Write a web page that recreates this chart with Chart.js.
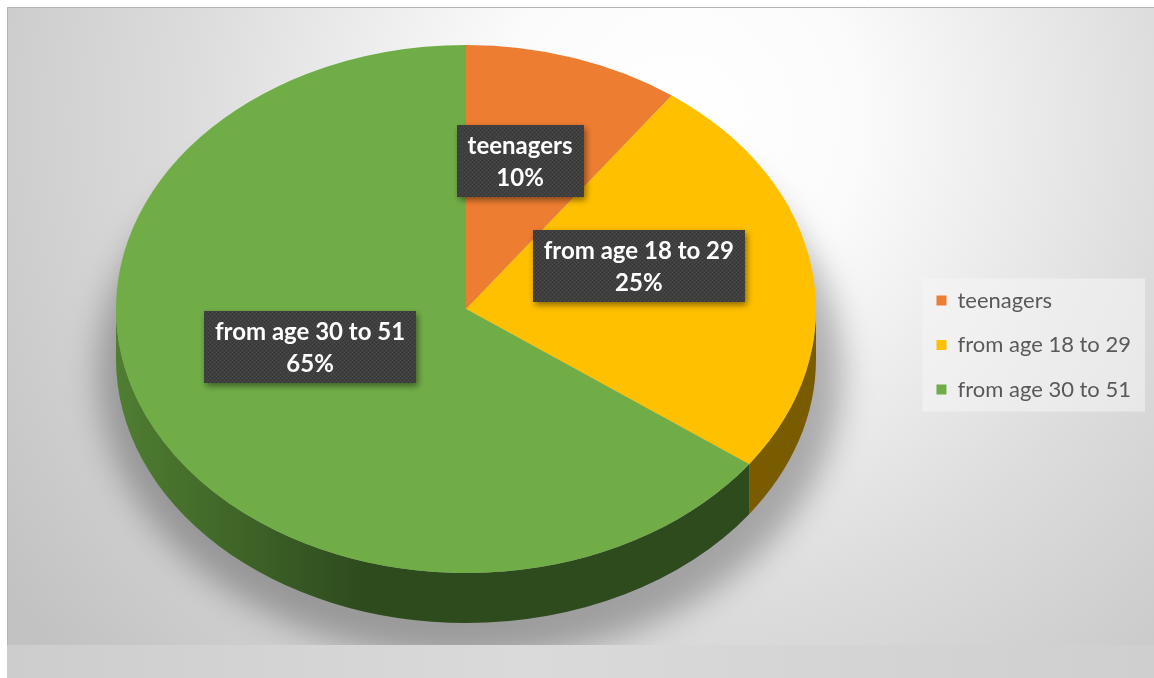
<!DOCTYPE html>
<html>
<head>
<meta charset="utf-8">
<script src="https://cdn.jsdelivr.net/npm/chart.js@4.4.1/dist/chart.umd.min.js"></script>
<style>
html,body{margin:0;padding:0;background:#ffffff;overflow:hidden;}
#wrap{width:1154px;height:678px;position:relative;}
canvas{display:block;}
</style>
</head>
<body>
<div id="wrap"><canvas id="c" width="1154" height="678"></canvas></div>
<script>
// ---- data ----
const categories = ['teenagers', 'from age 18 to 29', 'from age 30 to 51'];
const shares = [10, 25, 65];
// ---- styles ----
const topColors = ['#ED7D31', '#FFC000', '#70AD47'];
const sideDark = ['#8c4716', '#7a5c00', '#2e4b1e'];
const sideLight = ['#b0602a', '#9a7400', '#4f7e31'];

// background, floor and soft shadow
const backgroundPlugin = {
  id: 'bg3d',
  beforeDraw(chart, args, o) {
    const ctx = chart.ctx;
    const W = chart.width, H = chart.height;
    ctx.save();
    ctx.fillStyle = '#ffffff';
    ctx.fillRect(0, 0, W, H);
    const fx = o.frameLeft, fy = o.frameTop;
    const g = ctx.createRadialGradient(680, 120, 0, 680, 120, 820);
    g.addColorStop(0, '#ffffff');
    g.addColorStop(0.22, '#fbfbfb');
    g.addColorStop(0.6, '#dcdcdc');
    g.addColorStop(1, '#c2c2c2');
    ctx.fillStyle = g;
    ctx.fillRect(fx, fy, W - fx, H - fy);
    ctx.strokeStyle = '#b4b4b4';
    ctx.lineWidth = 1;
    ctx.beginPath();
    ctx.moveTo(fx + 0.5, H); ctx.lineTo(fx + 0.5, fy + 0.5); ctx.lineTo(W, fy + 0.5);
    ctx.stroke();

    // soft shadow behind the pie
    const p = chart.options.plugins.pie3d;
    ctx.save();
    ctx.beginPath();
    ctx.rect(fx, fy, W - fx, o.floorY - fy);
    ctx.clip();
    ctx.filter = 'blur(16px)';
    ctx.fillStyle = 'rgba(0,0,0,0.28)';
    ctx.beginPath();
    ctx.ellipse(p.cx + 4, p.cy + p.depth + 14, p.rx + 22, p.ry + 22, 0, 0, Math.PI * 2);
    ctx.fill();
    ctx.restore();

    // floor band
    const fg = ctx.createLinearGradient(fx, 0, W, 0);
    fg.addColorStop(0, '#cdcdcd');
    fg.addColorStop(0.45, '#dadada');
    fg.addColorStop(1, '#cfcfcf');
    ctx.fillStyle = fg;
    ctx.fillRect(fx, o.floorY, W - fx, H - o.floorY);

    // legend panel
    const lg = chart.legend;
    if (lg && lg.legendHitBoxes && lg.legendHitBoxes.length) {
      let x0 = Infinity, y0 = Infinity, x1 = -Infinity, y1 = -Infinity;
      lg.legendHitBoxes.forEach(h => {
        x0 = Math.min(x0, h.left); y0 = Math.min(y0, h.top);
        x1 = Math.max(x1, h.left + h.width); y1 = Math.max(y1, h.top + h.height);
      });
      ctx.fillStyle = 'rgba(245,245,245,0.55)';
      ctx.fillRect(x0 - o.legendPadX, y0 - o.legendPadY, (x1 - x0) + o.legendPadX * 2, (y1 - y0) + o.legendPadY * 2);
    }
    ctx.restore();
  }
};

// squash the library's pie into a tilted disc and add its side wall
function normRange(s, e) {
  const a1 = Math.max(s, 0), a2 = Math.min(e, Math.PI);
  return a1 < a2 ? [a1, a2] : null;
}
const pie3dPlugin = {
  id: 'pie3d',
  beforeDatasetsDraw(chart, args, o) {
    const meta = chart.getDatasetMeta(0);
    const arcs = meta.data;
    if (!arcs.length) return;
    const a0 = arcs[0];
    const R = a0.outerRadius;
    const sx = o.rx / R, sy = o.ry / R;
    const ctx = chart.ctx;
    ctx.save();
    ctx.translate(o.cx, o.cy);
    ctx.scale(sx, sy);
    ctx.translate(-a0.x, -a0.y);
    const d = o.depth / sy;
    arcs.forEach((arc, i) => {
      const r = normRange(arc.startAngle, arc.endAngle);
      if (!r) return;
      const g = ctx.createLinearGradient(arc.x - R, 0, arc.x + R, 0);
      g.addColorStop(0, sideLight[i]);
      g.addColorStop(0.35, sideDark[i]);
      g.addColorStop(1, sideDark[i]);
      ctx.fillStyle = g;
      ctx.beginPath();
      ctx.arc(arc.x, arc.y, R, r[0], r[1]);
      ctx.arc(arc.x, arc.y + d, R, r[1], r[0], true);
      ctx.closePath();
      ctx.fill();
    });
  },
  afterDatasetsDraw(chart, args, o) {
    chart.ctx.restore();
  }
};

// dark data-label callouts
let dotPattern = null;
function getPattern(ctx) {
  if (dotPattern) return dotPattern;
  const c = document.createElement('canvas');
  c.width = 4; c.height = 4;
  const x = c.getContext('2d');
  x.fillStyle = '#3f3f3f'; x.fillRect(0, 0, 4, 4);
  x.fillStyle = '#4a4a4a'; x.fillRect(0, 0, 1, 1); x.fillRect(2, 2, 1, 1);
  x.fillStyle = '#363636'; x.fillRect(2, 0, 1, 1); x.fillRect(0, 2, 1, 1);
  dotPattern = ctx.createPattern(c, 'repeat');
  return dotPattern;
}
const calloutPlugin = {
  id: 'callouts',
  afterDatasetsDraw(chart, args, o) {
    const p = chart.options.plugins.pie3d;
    const ctx = chart.ctx;
    const meta = chart.getDatasetMeta(0);
    const total = shares.reduce((a, b) => a + b, 0);
    ctx.save();
    ctx.font = 'bold ' + o.fontSize + 'px ' + o.fontFamily;
    meta.data.forEach((arc, i) => {
      const mid = (arc.startAngle + arc.endAngle) / 2;
      const x = p.cx + o.radial * p.rx * Math.cos(mid);
      const y = p.cy + o.radial * p.ry * Math.sin(mid) - o.lift;
      const lines = [categories[i], Math.round(shares[i] / total * 100) + '%'];
      const w = Math.max(...lines.map(t => ctx.measureText(t).width)) + o.padX * 2;
      const h = lines.length * o.lineHeight + o.padY * 2;
      ctx.save();
      ctx.shadowColor = 'rgba(0,0,0,0.45)';
      ctx.shadowBlur = 6;
      ctx.shadowOffsetX = 2;
      ctx.shadowOffsetY = 3;
      ctx.fillStyle = getPattern(ctx);
      ctx.fillRect(Math.round(x - w / 2), Math.round(y - h / 2), Math.round(w), Math.round(h));
      ctx.restore();
      ctx.fillStyle = '#ffffff';
      ctx.textAlign = 'center';
      ctx.textBaseline = 'middle';
      lines.forEach((t, k) => {
        ctx.fillText(t, x, y - h / 2 + o.padY + o.lineHeight * (k + 0.5) + 1);
      });
    });
    ctx.restore();
  }
};

new Chart(document.getElementById('c'), {
  type: 'pie',
  data: {
    labels: categories,
    datasets: [{
      data: shares,
      backgroundColor: topColors,
      borderWidth: 0
    }]
  },
  options: {
    responsive: false,
    animation: false,
    events: [],
    layout: { padding: { top: 12, right: 13, left: 8, bottom: 0 } },
    plugins: {
      bg3d: { frameLeft: 7, frameTop: 7, floorY: 645, legendPadX: 14, legendPadY: 11 },
      pie3d: { cx: 466, cy: 309, rx: 350, ry: 264, depth: 50 },
      callouts: { fontFamily: 'Lato', fontSize: 24, lineHeight: 32, padX: 11, padY: 4, radial: 0.5, lift: 22 },
      tooltip: { enabled: false },
      legend: {
        position: 'right',
        align: 'center',
        labels: {
          boxWidth: 10,
          boxHeight: 10,
          padding: 22.5,
          color: '#595959',
          font: { family: 'Lato', size: 22 }
        }
      }
    }
  },
  plugins: [backgroundPlugin, pie3dPlugin, calloutPlugin]
});
</script>
</body>
</html>
